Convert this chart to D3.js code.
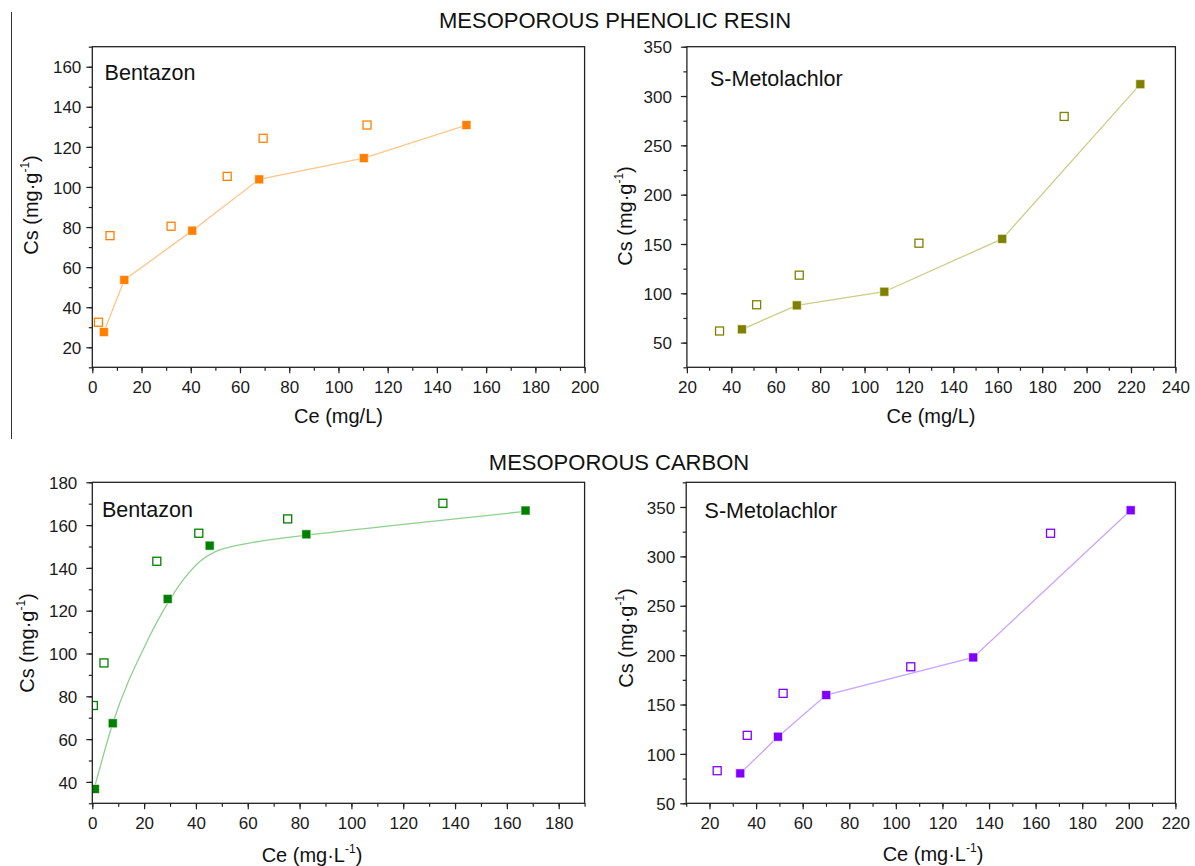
<!DOCTYPE html>
<html>
<head>
<meta charset="utf-8">
<script src="https://cdn.jsdelivr.net/npm/d3@7"></script>
<style>
  body { margin: 0; background: #fff; }
  svg { display: block; font-family: "Liberation Sans", Arial, sans-serif; }
  .tick text { fill: #1a1a1a; }
</style>
</head>
<body>
<div class="chart"></div>
<script>
// ---- data ----
// mesoporous phenolic resin, bentazon
var resinBenCe = [4.7, 13.0, 40.6, 67.8, 110.3, 152.0];
var resinBenCs = [27.6, 53.6, 78.2, 103.8, 114.4, 130.9];
var resinBenOpenCe = [2.5, 7.2, 32.0, 54.8, 69.4, 111.6];
var resinBenOpenCs = [32.5, 75.7, 80.4, 105.3, 124.3, 130.9];

// mesoporous phenolic resin, s-metolachlor
var resinMetCe = [44.8, 69.5, 108.9, 162.0, 224.2];
var resinMetCs = [63.5, 87.8, 101.6, 155.2, 312.0];
var resinMetOpenCe = [34.7, 51.4, 70.6, 124.5, 189.9];
var resinMetOpenCs = [61.8, 88.4, 118.4, 150.8, 279.3];

// mesoporous carbon, bentazon
var carbBenCe = [1.0, 7.9, 29.1, 45.3, 82.6, 167.2];
var carbBenCs = [36.7, 67.4, 125.5, 150.4, 155.7, 166.8];
var carbBenOpenCe = [0.4, 4.5, 24.9, 41.1, 75.4, 135.3];
var carbBenOpenCs = [75.7, 95.6, 143.1, 156.2, 162.9, 170.2];
// fitted curve
var carbBenFitCe = [1.0, 7.9, 20.8, 29.1, 35.6, 41.5, 47.5, 53.4, 60.1, 68.2, 82.6, 120.0, 167.2];
var carbBenFitCs = [38.0, 67.4, 104.8, 123.5, 135.2, 143.0, 147.6, 149.8, 151.5, 153.1, 155.3, 160.3, 166.4];

// mesoporous carbon, s-metolachlor
var carbMetCe = [33.2, 49.4, 70.1, 133.2, 200.8];
var carbMetCs = [80.3, 117.4, 159.6, 197.7, 346.7];
var carbMetOpenCe = [23.3, 36.2, 51.6, 106.4, 166.4];
var carbMetOpenCs = [83.0, 118.8, 161.3, 188.2, 323.4];

// axis ranges
var benResinX = [0, 200], benResinY = [10, 170];
var metResinX = [20, 240], metResinY = [25, 350];
var benCarbX = [0, 190], benCarbY = [30, 180];
var metCarbX = [10, 220], metCarbY = [50, 375];

var titles = ["MESOPOROUS PHENOLIC RESIN", "MESOPOROUS CARBON"];

var svgWidth = 1195;
var svgHeight = 866;

var svg = d3.select(".chart")
  .append("svg")
  .attr("width", svgWidth)
  .attr("height", svgHeight);

var defs = svg.append("defs");

function zip(xs, ys) {
  return xs.map(function(x, i) { return {x: x, y: ys[i]}; });
}

function range(a, b, step) {
  return d3.range(a, b + step / 2, step);
}

var panels = [
  {
    left: 92.3, right: 584.6, top: 46.7, bottom: 367.3,
    xDomain: benResinX, yDomain: benResinY,
    xMajor: range(0, 200, 20), xMinor: range(0, 200, 10),
    yMajor: range(20, 160, 20), yMinor: range(10, 170, 10),
    filled: zip(resinBenCe, resinBenCs), open: zip(resinBenOpenCe, resinBenOpenCs),
    line: zip(resinBenCe, resinBenCs), curve: d3.curveLinear,
    color: "#ff8000", lineColor: "#ffc58a",
    label: "Bentazon", labelX: 104.6, labelY: 80,
    yPad: 5, xTitle: "Ce (mg/L)", xTitleX: 338.5, xTitleY: 423,
    yTitleX: 37.5, yTitleY: 205
  },
  {
    left: 686.9, right: 1175.4, top: 46.7, bottom: 367.3,
    xDomain: metResinX, yDomain: metResinY,
    xMajor: range(20, 240, 20), xMinor: range(20, 240, 10),
    yMajor: range(50, 350, 50), yMinor: range(25, 350, 25),
    filled: zip(resinMetCe, resinMetCs), open: zip(resinMetOpenCe, resinMetOpenCs),
    line: zip(resinMetCe, resinMetCs), curve: d3.curveLinear,
    color: "#808000", lineColor: "#cdcd8a",
    label: "S-Metolachlor", labelX: 710, labelY: 86,
    yPad: 9, xTitle: "Ce (mg/L)", xTitleX: 931, xTitleY: 423,
    yTitleX: 631.5, yTitleY: 216
  },
  {
    left: 92.3, right: 584.6, top: 482.3, bottom: 803.3,
    xDomain: benCarbX, yDomain: benCarbY,
    xMajor: range(0, 180, 20), xMinor: range(0, 190, 10),
    yMajor: range(40, 180, 20), yMinor: range(30, 180, 10),
    filled: zip(carbBenCe, carbBenCs), open: zip(carbBenOpenCe, carbBenOpenCs),
    line: zip(carbBenFitCe, carbBenFitCs), curve: d3.curveMonotoneX,
    color: "#008000", lineColor: "#8fd08f",
    label: "Bentazon", labelX: 102, labelY: 516.7,
    yPad: 9, xTitle: "Ce (mg·L", sup: true, xTitleX: 312, xTitleY: 861.5,
    yTitleX: 34, yTitleY: 643
  },
  {
    left: 686.2, right: 1175.4, top: 482.3, bottom: 803.3,
    xDomain: metCarbX, yDomain: metCarbY,
    xMajor: range(20, 220, 20), xMinor: range(10, 220, 10),
    yMajor: range(50, 350, 50), yMinor: range(50, 375, 25),
    filled: zip(carbMetCe, carbMetCs), open: zip(carbMetOpenCe, carbMetOpenCs),
    line: zip(carbMetCe, carbMetCs), curve: d3.curveLinear,
    color: "#8000ff", lineColor: "#c9a3ff",
    label: "S-Metolachlor", labelX: 704.6, labelY: 518,
    yPad: 5, xTitle: "Ce (mg·L", sup: true, xTitleX: 933, xTitleY: 860.5,
    yTitleX: 633, yTitleY: 638
  }
];

// left divider line by the top row
svg.append("line")
  .attr("x1", 11.5).attr("x2", 11.5)
  .attr("y1", 12).attr("y2", 439)
  .attr("stroke", "#333")
  .attr("stroke-width", 1);

svg.append("text")
  .attr("x", 615).attr("y", 28)
  .attr("text-anchor", "middle")
  .style("font-size", "22px")
  .attr("fill", "#111")
  .text(titles[0]);

svg.append("text")
  .attr("x", 619).attr("y", 470)
  .attr("text-anchor", "middle")
  .style("font-size", "22px")
  .attr("fill", "#111")
  .text(titles[1]);

function addSup(sel) {
  sel.append("tspan")
    .style("font-size", "12px")
    .attr("dy", "-9")
    .text("-1");
  sel.append("tspan")
    .attr("dy", "9")
    .text(")");
}

panels.forEach(function(p, i) {
  var w = p.right - p.left;
  var h = p.bottom - p.top;

  var x = d3.scaleLinear().domain(p.xDomain).range([0, w]);
  var y = d3.scaleLinear().domain(p.yDomain).range([h, 0]);

  var g = svg.append("g")
    .attr("transform", `translate(${p.left}, ${p.top})`);

  defs.append("clipPath")
    .attr("id", "clip" + i)
    .append("rect")
    .attr("width", w)
    .attr("height", h);

  // minor ticks
  g.append("g")
    .attr("transform", `translate(0, ${h})`)
    .call(d3.axisBottom(x).tickValues(p.xMinor).tickSize(3.5).tickFormat("").tickSizeOuter(0))
    .call(function(a) { a.select(".domain").remove(); });
  g.append("g")
    .call(d3.axisLeft(y).tickValues(p.yMinor).tickSize(3.5).tickFormat("").tickSizeOuter(0))
    .call(function(a) { a.select(".domain").remove(); });

  // major ticks with labels
  var xAxis = g.append("g")
    .attr("transform", `translate(0, ${h})`)
    .call(d3.axisBottom(x).tickValues(p.xMajor).tickSize(6).tickPadding(8).tickSizeOuter(0));
  xAxis.select(".domain").remove();
  xAxis.selectAll("text").style("font-size", "17px");

  var yAxis = g.append("g")
    .call(d3.axisLeft(y).tickValues(p.yMajor).tickSize(6).tickPadding(p.yPad).tickSizeOuter(0));
  yAxis.select(".domain").remove();
  yAxis.selectAll("text").style("font-size", "17px").attr("dy", "0.36em");

  g.selectAll(".tick line").attr("stroke", "#222").attr("stroke-width", 1.2);

  var plot = g.append("g").attr("clip-path", `url(#clip${i})`);

  var lineGen = d3.line()
    .x(function(d) { return x(d.x); })
    .y(function(d) { return y(d.y); })
    .curve(p.curve);

  plot.append("path")
    .datum(p.line)
    .attr("d", lineGen)
    .attr("fill", "none")
    .attr("stroke", p.lineColor)
    .attr("stroke-width", 1.3);

  // open squares
  plot.selectAll(".open")
    .data(p.open)
    .enter()
    .append("rect")
    .attr("x", function(d) { return x(d.x) - 4; })
    .attr("y", function(d) { return y(d.y) - 4; })
    .attr("width", 8)
    .attr("height", 8)
    .attr("fill", "#fff")
    .attr("stroke", p.color)
    .attr("stroke-width", 1.3);

  // filled squares
  plot.selectAll(".filled")
    .data(p.filled)
    .enter()
    .append("rect")
    .attr("x", function(d) { return x(d.x) - 4.5; })
    .attr("y", function(d) { return y(d.y) - 4.5; })
    .attr("width", 9)
    .attr("height", 9)
    .attr("fill", p.color)
    .attr("stroke", "#fff")
    .attr("stroke-opacity", 0.6)
    .attr("stroke-width", 1);

  // frame
  g.append("rect")
    .attr("width", w)
    .attr("height", h)
    .attr("fill", "none")
    .attr("stroke", "#222")
    .attr("stroke-width", 1.3);

  // panel label
  svg.append("text")
    .attr("x", p.labelX).attr("y", p.labelY)
    .style("font-size", "21.5px")
    .attr("fill", "#111")
    .text(p.label);

  // x title
  var xt = svg.append("text")
    .attr("x", p.xTitleX).attr("y", p.xTitleY)
    .attr("text-anchor", "middle")
    .style("font-size", "20px")
    .attr("fill", "#111")
    .text(p.xTitle);
  if (p.sup) addSup(xt);

  // y title
  var yt = svg.append("text")
    .attr("transform", `translate(${p.yTitleX}, ${p.yTitleY}) rotate(-90)`)
    .attr("text-anchor", "middle")
    .style("font-size", "20px")
    .attr("fill", "#111")
    .text("Cs (mg·g");
  addSup(yt);
});
</script>
</body>
</html>
